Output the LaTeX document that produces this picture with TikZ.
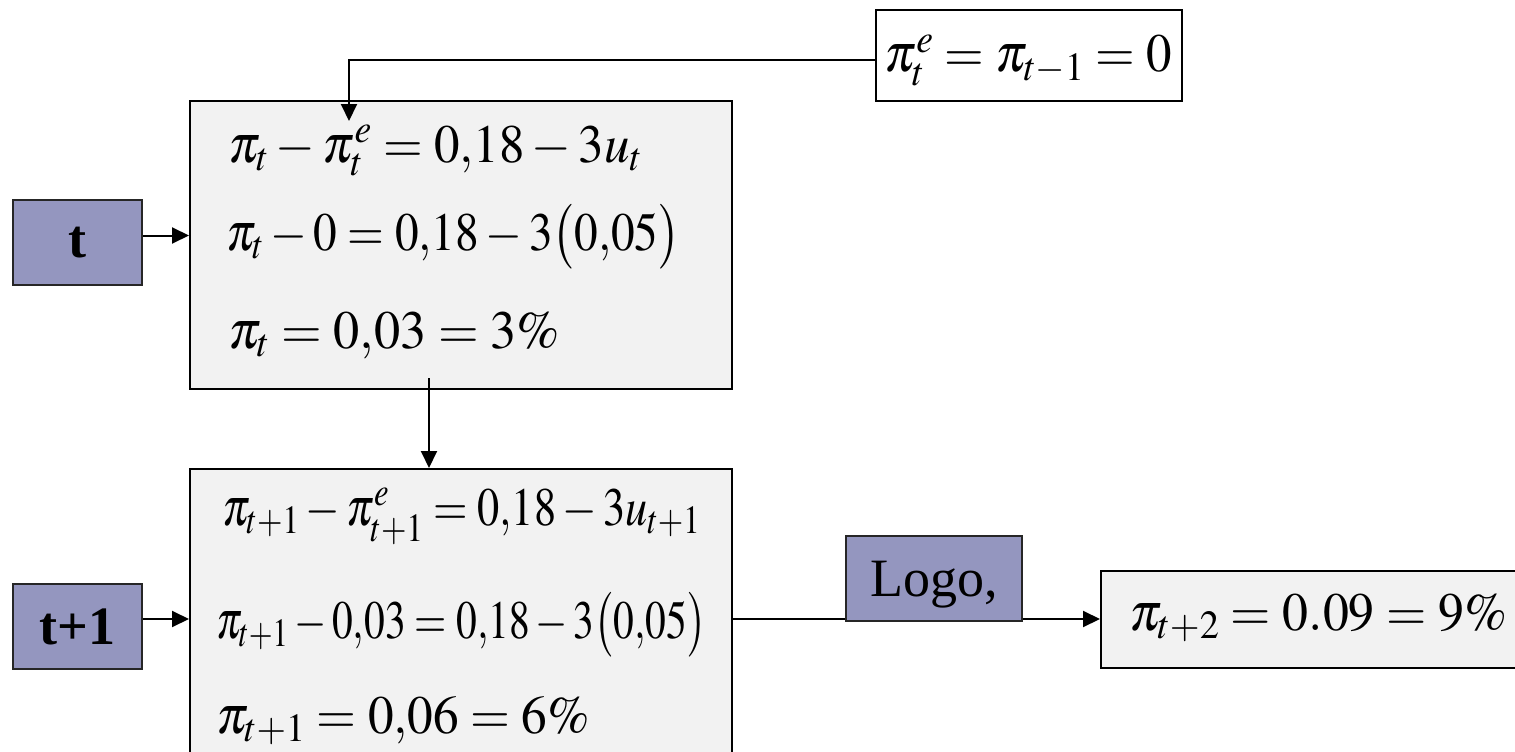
\documentclass[tikz,border=0pt]{standalone}
\usepackage{mathptmx}
\usepackage[no-math]{fontspec}
\setmainfont{Liberation Serif}
\usepackage{graphicx}
\usetikzlibrary{arrows.meta,positioning}
\definecolor{boxgray}{HTML}{F2F2F2}
\definecolor{slate}{HTML}{9496BF}
\newcommand{\fitline}[2]{\resizebox{#1}{\height}{$#2$}}

\begin{document}
\begin{tikzpicture}[x=1pt, y=-1pt,
    eqbox/.style={rectangle, draw=black, fill=#1, line width=2pt, inner sep=0pt, anchor=north west},
    period/.style={rectangle, draw=black!85, fill=slate, line width=2pt, inner sep=0pt, anchor=north west, minimum width=129pt, minimum height=85pt, text depth=0pt, font=\fontsize{54}{60}\selectfont\bfseries},
    eqline/.style={inner sep=0pt, anchor=base west, font=\fontsize{54}{60}\selectfont},
    arrow/.style={-{Triangle[length=17pt, width=16pt]}, line width=2pt}
]
    \useasboundingbox (0,0) rectangle (1515,752);
    \clip (0,0) rectangle (1515,752);

    % Boxes
    \node[eqbox=white, minimum width=306pt, minimum height=91pt] (expect) at (875,9) {};
    \node[eqbox=boxgray, minimum width=542pt, minimum height=288pt] (box1) at (189,100) {};
    \node[eqbox=boxgray, minimum width=542pt, minimum height=300pt] (box2) at (189,468) {};
    \node[eqbox=boxgray, minimum width=440pt, minimum height=97pt] (result) at (1100,570) {};
    \node[period] (tnow) at (12,199) {t};
    \node[period] (tnext) at (12,583) {t+1};

    % Equations
    \node[eqline] (e0) at (884,72) {\fitline{288pt}{\pi_t^e = \pi_{t-1} = 0}};
    \node[eqline] (e11) at (228,162) {\fitline{414pt}{\pi_t - \pi_t^e = 0{,}18 - 3u_t}};
    \node[eqline] (e12) at (226,250) {\fitline{454pt}{\pi_t - 0 = 0{,}18 - 3\bigl(0{,}05\bigr)}};
    \node[eqline] (e13) at (228,348) {\fitline{332pt}{\pi_t = 0{,}03 = 3\%}};
    \node[eqline] (e21) at (222,525) {\fitline{478pt}{\pi_{t+1} - \pi_{t+1}^e = 0{,}18 - 3u_{t+1}}};
    \node[eqline] (e22) at (216,638) {\fitline{490pt}{\pi_{t+1} - 0{,}03 = 0{,}18 - 3\bigl(0{,}05\bigr)}};
    \node[eqline] (e23) at (216,733) {\fitline{374pt}{\pi_{t+1} = 0{,}06 = 6\%}};
    \node[eqline] (e3) at (1129,630) {\fitline{378pt}{\pi_{t+2} = 0.09 = 9\%}};

    % Arrows
    \coordinate (pe) at (349,121);
    \coordinate (b1out) at (429,378);
    \draw[arrow] ([yshift=-4.5pt]expect.west) -| (pe);
    \draw[arrow] ([yshift=7pt]tnow.east) -- ([yshift=7pt]tnow.east -| box1.west);
    \draw[arrow] (b1out) -- (b1out |- box2.north);
    \draw[arrow] (tnext.east |- box2.west) -- (box2.west);
    \draw[arrow] (box2.east) -- (box2.east -| result.west);

    \node[period, minimum width=176pt, font=\fontsize{54}{60}\selectfont] (logo) at (845,535) {Logo,};
\end{tikzpicture}
\end{document}
